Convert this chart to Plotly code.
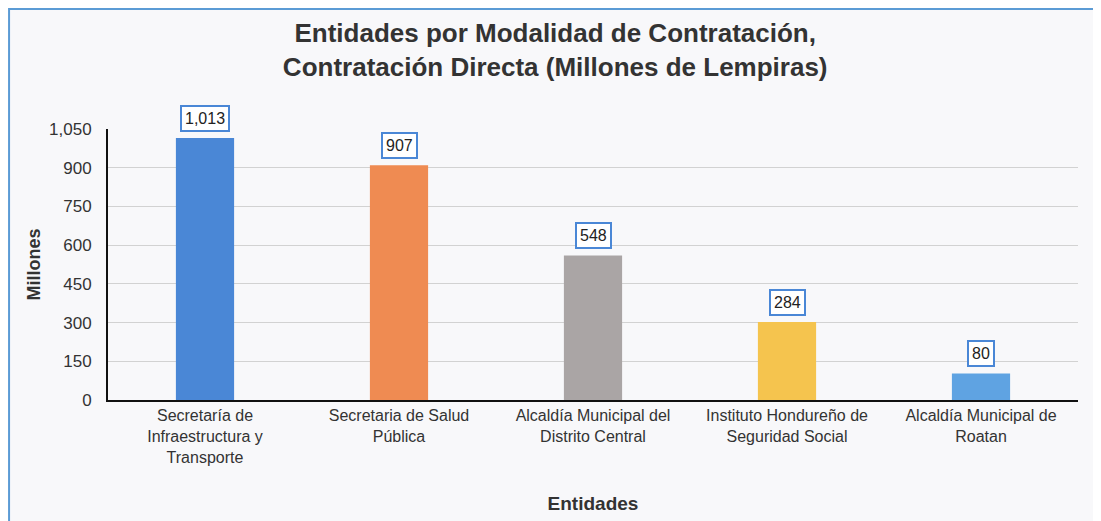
import plotly.graph_objects as go

entidades = [
    "Secretaría de<br>Infraestructura y<br>Transporte",
    "Secretaria de Salud<br>Pública",
    "Alcaldía Municipal del<br>Distrito Central",
    "Instituto Hondureño de<br>Seguridad Social",
    "Alcaldía Municipal de<br>Roatan",
]
# etiquetas de datos tal como aparecen en el gráfico
montos = [1013, 907, 548, 284, 80]
# altura a la que se dibuja cada barra en el original (no coincide del todo con la etiqueta)
alturas = [1015, 910, 560, 302, 103]
colores = ["#4a87d6", "#ef8b52", "#aaa5a5", "#f5c44e", "#5fa3e2"]
ticks = [0, 150, 300, 450, 600, 750, 900, 1050]

fig = go.Figure()
fig.add_trace(go.Bar(
    x=entidades,
    y=alturas,
    marker_color=colores,
    marker_line_width=0,
    width=0.3,
    showlegend=False,
    hovertext=[f"{m:,}" for m in montos],
))

for ent, alt, val in zip(entidades, alturas, montos):
    fig.add_annotation(
        x=ent, y=alt, text=f"{val:,}",
        showarrow=False, yanchor="bottom", yshift=6,
        font=dict(size=16, color="#222222", family="Liberation Sans, Arial"),
        bordercolor="#4a87d6", borderwidth=2, borderpad=3,
        bgcolor="white",
    )

fig.update_layout(
    width=1101, height=521,
    margin=dict(l=100, r=31, t=121, b=129),
    paper_bgcolor="#f8f8fa",
    plot_bgcolor="#f8f8fa",
    font=dict(family="Liberation Sans, Arial", color="#333333"),
    title=dict(
        text="<b>Entidades por Modalidad de Contratación,<br>Contratación Directa (Millones de Lempiras)</b>",
        x=0.497, xanchor="center", y=0.935, yanchor="top",
        font=dict(size=26, color="#333333"),
    ),
)

fig.update_xaxes(
    showline=True, linecolor="#111111", linewidth=2,
    tickfont=dict(size=16, color="#333333"),
    ticks="", showgrid=False,
    title=dict(text="<b>Entidades</b>", font=dict(size=19, color="#333333"), standoff=32),
)
fig.update_yaxes(
    range=[0, 1050],
    tickvals=ticks, ticktext=[f"{t:,}" for t in ticks],
    tickfont=dict(size=17, color="#333333"),
    showline=True, linecolor="#111111", linewidth=2,
    showgrid=True, gridcolor="#d2d2d2", gridwidth=1,
    zeroline=False, ticks="outside", ticklen=11, tickcolor="rgba(0,0,0,0)",
    title=dict(text="<b>Millones</b>", font=dict(size=18, color="#333333"), standoff=4),
)

# marco del gráfico
fig.add_shape(
    type="rect", xref="paper", yref="paper",
    x0=-0.102, x1=1.06, y0=-0.6, y1=1.443,
    line=dict(color="#5b9bd5", width=2), fillcolor="rgba(0,0,0,0)",
    layer="below",
)

fig.write_html("out.html")
